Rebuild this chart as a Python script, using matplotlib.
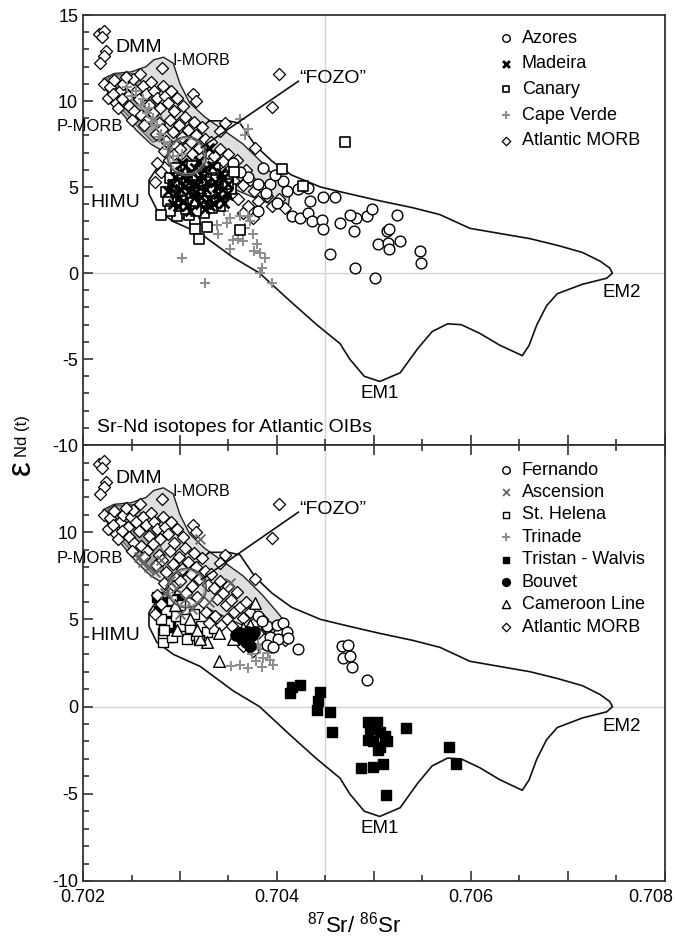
import matplotlib
matplotlib.use("Agg")
import matplotlib.pyplot as plt
from matplotlib.patches import Polygon, Ellipse
from matplotlib.transforms import ScaledTranslation

plt.rcParams['font.family'] = ['Liberation Sans', 'DejaVu Sans']
plt.rcParams['axes.unicode_minus'] = False

# ---------------- data ----------------
morb_x = [0.70216, 0.70222, 0.70220, 0.70224, 0.70222, 0.70218,
          0.70402, 0.70395, 0.70281, 0.70313, 0.70317, 0.70377, 0.70346, 0.70341,
          0.70222, 0.70228, 0.70232, 0.70238, 0.70241, 0.70246, 0.70249, 0.70252, 0.70255, 0.70258,
          0.70262, 0.70265, 0.70268, 0.70270, 0.70273, 0.70276, 0.70279, 0.70282, 0.70285, 0.70226,
          0.70234, 0.70240, 0.70247, 0.70253, 0.70260, 0.70266, 0.70272, 0.70278, 0.70231, 0.70244,
          0.70259, 0.70236, 0.70251, 0.70263, 0.70288, 0.70291, 0.70294, 0.70297, 0.70300, 0.70303,
          0.70275, 0.70281, 0.70286, 0.70290, 0.70293, 0.70296, 0.70299, 0.70302, 0.70305, 0.70308,
          0.70311, 0.70314, 0.70317, 0.70320, 0.70323, 0.70326, 0.70329, 0.70284, 0.70289, 0.70294,
          0.70300, 0.70306, 0.70312, 0.70318, 0.70276, 0.70280, 0.70274,
          0.70332, 0.70335, 0.70338, 0.70341, 0.70344, 0.70347, 0.70350, 0.70353, 0.70356, 0.70359,
          0.70362, 0.70365, 0.70368, 0.70324, 0.70327, 0.70330, 0.70336, 0.70342, 0.70348, 0.70354,
          0.70360, 0.70372, 0.70376, 0.70380, 0.70385, 0.70390, 0.70395, 0.70402, 0.70408, 0.70370,
          0.70365, 0.70375]
morb_y = [13.9, 14.1, 13.7, 12.9, 12.6, 12.2,
          11.6, 9.65, 11.9, 10.4, 10.0, 7.3, 8.7, 8.25,
          11.0, 10.8, 11.2, 10.6, 11.0, 10.3, 10.9, 11.3, 10.6, 10.1,
          10.9, 10.4, 9.8, 11.1, 10.6, 10.2, 9.6, 10.9, 10.3, 10.2,
          9.9, 10.1, 9.7, 9.4, 9.2, 8.9, 9.3, 8.7, 10.4, 11.4,
          11.6, 9.6, 8.9, 8.6, 9.9, 10.6, 9.4, 10.2, 8.8, 9.7,
          8.1, 8.4, 7.7, 8.9, 8.2, 7.4, 8.6, 7.9, 9.1, 8.3,
          7.6, 8.8, 8.0, 7.3, 8.5, 7.8, 7.0, 7.1, 6.6, 6.9,
          7.2, 6.5, 6.9, 6.3, 6.4, 5.9, 5.3,
          7.6, 6.8, 6.2, 7.2, 6.5, 5.8, 6.9, 6.1, 5.4, 6.6,
          5.7, 5.1, 6.0, 6.0, 5.4, 4.8, 5.2, 4.7, 5.0, 4.6,
          4.3, 5.4, 4.8, 4.2, 5.0, 4.5, 3.9, 4.3, 3.8, 3.9,
          3.5, 3.2]

azores_x = [0.70355, 0.70370, 0.70386, 0.70380, 0.70393, 0.70389, 0.70400, 0.70406, 0.70380, 0.70422,
            0.70432, 0.70434, 0.70447, 0.70460, 0.70415, 0.70424, 0.70432, 0.70436, 0.70446, 0.70447,
            0.70465, 0.70455, 0.70479, 0.70482, 0.70493, 0.70498, 0.70524, 0.70513, 0.70516, 0.70504,
            0.70514, 0.70527, 0.70516, 0.70480, 0.70501, 0.70548, 0.70549, 0.70475, 0.70362, 0.70398,
            0.70410]
azores_y = [6.4, 5.6, 6.1, 5.2, 5.2, 4.65, 4.1, 5.35, 3.6, 4.9,
            4.95, 4.2, 4.4, 4.4, 3.3, 3.2, 3.5, 3.0, 3.1, 2.55,
            2.9, 1.1, 2.45, 3.2, 3.3, 3.7, 3.4, 2.45, 2.55, 1.7,
            1.75, 1.85, 1.4, 0.3, -0.3, 1.3, 0.6, 3.4, 5.9, 5.7,
            4.8]

madeira_x = [0.70292, 0.70296, 0.70300, 0.70303, 0.70306, 0.70309, 0.70312, 0.70315, 0.70318, 0.70321,
             0.70324, 0.70327, 0.70330, 0.70333, 0.70336, 0.70339, 0.70342, 0.70345, 0.70298, 0.70310,
             0.70288, 0.70302, 0.70320, 0.70330, 0.70350, 0.70326, 0.70335, 0.70295, 0.70313, 0.70317,
             0.70298, 0.70304, 0.70307, 0.70319, 0.70322, 0.70328, 0.70331, 0.70338, 0.70341, 0.70305,
             0.70315, 0.70325, 0.70344, 0.70348, 0.70293, 0.70300]
madeira_y = [5.2, 4.6, 5.9, 4.2, 5.4, 4.8, 5.9, 4.4, 5.1, 4.0,
             5.6, 4.9, 4.3, 6.2, 5.3, 4.6, 5.8, 4.1, 3.9, 3.6,
             4.8, 6.4, 6.5, 7.3, 5.2, 3.7, 4.0, 5.6, 5.2, 4.7,
             4.3, 5.0, 3.9, 5.5, 4.4, 5.3, 3.9, 5.0, 4.3, 5.7,
             6.1, 6.0, 5.5, 4.6, 4.0, 4.9]

canary_x = [0.70290, 0.70293, 0.70296, 0.70299, 0.70302, 0.70305, 0.70308, 0.70311, 0.70314, 0.70317,
            0.70320, 0.70323, 0.70326, 0.70329, 0.70332, 0.70335, 0.70338, 0.70341, 0.70344, 0.70347,
            0.70288, 0.70291, 0.70300, 0.70304, 0.70312, 0.70318, 0.70327, 0.70336, 0.70350, 0.70353,
            0.70286, 0.70297, 0.70315, 0.70315, 0.70328, 0.70320, 0.70362, 0.70405, 0.70427, 0.70290,
            0.70470, 0.70309, 0.70325, 0.70280,
            0.70294, 0.70301, 0.70307, 0.70313, 0.70319, 0.70324, 0.70331, 0.70337, 0.70343, 0.70349,
            0.70306, 0.70316, 0.70333, 0.70296, 0.70356]
canary_y = [5.5, 4.9, 4.4, 5.8, 5.2, 4.6, 4.0, 5.5, 4.9, 4.3,
            3.8, 5.2, 4.6, 4.1, 5.6, 5.0, 4.4, 3.9, 5.3, 4.7,
            4.2, 3.7, 3.5, 6.0, 6.2, 5.7, 5.9, 6.1, 5.6, 4.9,
            4.7, 3.3, 3.1, 2.55, 2.7, 2.0, 2.5, 6.05, 5.05, 3.6,
            7.6, 3.4, 3.5, 3.4,
            5.1, 4.2, 5.3, 4.1, 4.8, 4.2, 4.8, 5.4, 4.6, 5.2,
            3.7, 3.6, 3.8, 6.1, 5.9]

capeverde_x = [0.70339, 0.70352, 0.70355, 0.70367, 0.70375, 0.70379, 0.70382, 0.70388, 0.70385, 0.70382,
               0.70352, 0.70370, 0.70338, 0.70362, 0.70370, 0.70367, 0.70348, 0.70362, 0.70372, 0.70365,
               0.70360, 0.70302, 0.70326, 0.70395, 0.70345, 0.70376,
               0.70255, 0.70262, 0.70268, 0.70272, 0.70276, 0.70280, 0.70284, 0.70288, 0.70293, 0.70298,
               0.70260, 0.70266, 0.70270, 0.70250, 0.70245, 0.70278, 0.70290, 0.70302, 0.70308]
capeverde_y = [2.25, 1.4, 1.95, 2.6, 2.25, 1.7, 1.15, 0.9, 0.3, 0.0,
               3.2, 3.3, 2.8, 8.95, 8.35, 8.0, 2.9, 3.3, 3.0, 1.85,
               2.0, 0.87, -0.58, -0.6, 3.6, 1.3,
               10.6, 10.1, 9.6, 9.0, 8.6, 8.1, 7.6, 7.2, 6.8, 6.5,
               9.8, 9.3, 8.8, 10.3, 10.8, 7.9, 7.5, 6.9, 6.4]

fernando_x = [0.70380, 0.70390, 0.70400, 0.70406, 0.70410, 0.70393, 0.70401, 0.70411, 0.70390, 0.70396,
              0.70422, 0.70467, 0.70473, 0.70468, 0.70475, 0.70477, 0.70493, 0.70372, 0.70385]
fernando_y = [5.2, 4.6, 4.7, 4.8, 4.3, 4.0, 3.85, 3.95, 3.55, 3.4,
              3.3, 3.45, 3.55, 2.8, 2.9, 2.3, 1.55, 4.4, 4.9]

ascension_x = [0.70321, 0.70352, 0.70262, 0.70268, 0.70274, 0.70258, 0.70280, 0.70290, 0.70296, 0.70305,
               0.70312, 0.70285, 0.70330, 0.70300]
ascension_y = [9.6, 7.1, 8.3, 8.0, 7.7, 8.6, 8.4, 7.2, 6.8, 6.2,
               5.6, 6.5, 6.0, 5.3]

sthelena_x = [0.70282, 0.70282, 0.70292, 0.70307, 0.70317, 0.70300, 0.70288, 0.70296, 0.70310, 0.70322,
              0.70286, 0.70300, 0.70314, 0.70328, 0.70292, 0.70305, 0.70280, 0.70320, 0.70335, 0.70284]
sthelena_y = [3.7, 4.25, 4.0, 3.85, 4.1, 4.6, 4.8, 5.2, 4.5, 4.6,
              5.5, 5.8, 5.3, 4.3, 6.1, 5.0, 5.0, 3.8, 4.5, 4.4]

trinade_x = [0.70362, 0.70374, 0.70382, 0.70386, 0.70391, 0.70385, 0.70396, 0.70390, 0.70353, 0.70378,
             0.70393, 0.70380, 0.70370]
trinade_y = [2.4, 3.0, 3.3, 2.8, 3.1, 2.25, 2.4, 3.45, 2.35, 2.6,
             2.7, 3.6, 2.2]

tristan_x = [0.70413, 0.70416, 0.70424, 0.70444, 0.70442, 0.70441, 0.70455, 0.70457,
             0.70494, 0.70503, 0.70496, 0.70506, 0.70511, 0.70494, 0.70499, 0.70506, 0.70513, 0.70504,
             0.70533, 0.70487, 0.70499, 0.70509, 0.70512, 0.70577, 0.70585,
             0.70276, 0.70280, 0.70284, 0.70288, 0.70292, 0.70283, 0.70290, 0.70286, 0.70295, 0.70281,
             0.70278, 0.70289, 0.70294, 0.70298]
tristan_y = [0.8, 1.1, 1.25, 0.85, 0.3, -0.2, -0.3, -1.45,
             -0.9, -0.9, -1.3, -1.45, -1.7, -1.9, -2.0, -2.3, -2.0, -2.5,
             -1.2, -3.5, -3.45, -3.3, -5.05, -2.3, -3.3,
             6.3, 5.8, 5.3, 4.9, 5.6, 4.6, 4.3, 6.0, 5.1, 5.0,
             5.5, 4.0, 4.5, 6.2]

bouvet_x = [0.70362, 0.70366, 0.70370, 0.70374, 0.70368, 0.70372, 0.70365, 0.70376, 0.70358, 0.70370]
bouvet_y = [4.2, 4.0, 4.3, 4.1, 3.7, 3.5, 3.9, 4.3, 4.1, 3.8]

cameroon_x = [0.70377, 0.70372, 0.70328, 0.70340, 0.70297, 0.70321, 0.70355, 0.70310, 0.70340, 0.70365,
              0.70295, 0.70318]
cameroon_y = [5.95, 4.7, 3.7, 2.6, 4.4, 3.85, 3.85, 5.0, 4.2, 4.5,
              5.8, 4.4]

# field outlines (Sr, eNd vertices)
oib_x = [0.70330, 0.70350, 0.70362, 0.70368, 0.70378, 0.70395, 0.70415, 0.70445, 0.70475, 0.70506,
         0.70540, 0.70568, 0.70599, 0.70630, 0.70661, 0.70690, 0.70715, 0.70733, 0.70743, 0.70746,
         0.70740, 0.70715, 0.70689, 0.70678, 0.70668, 0.70660, 0.70653, 0.70630, 0.70609, 0.70590,
         0.70576, 0.70560, 0.70545, 0.70527, 0.70506, 0.70490, 0.70475, 0.70465, 0.70441, 0.70413,
         0.70382, 0.70355, 0.70321, 0.70293, 0.70276, 0.70268, 0.70268, 0.70275, 0.70290, 0.70310,
         0.70330]
oib_y = [8.85, 8.85, 8.7, 8.2, 7.4, 6.5, 5.7, 5.0, 4.6, 4.2,
         3.8, 3.4, 2.6, 2.3, 2.0, 1.6, 1.2, 0.7, 0.3, 0.0,
         -0.3, -0.65, -1.2, -1.9, -3.0, -4.2, -4.8, -4.2, -3.5, -3.0,
         -2.95, -3.4, -4.4, -5.8, -6.3, -6.0, -5.0, -4.1, -3.0, -1.6,
         0.0, 0.9, 2.3, 3.0, 3.7, 4.6, 5.4, 6.0, 6.8, 7.8,
         8.85]

imorb_x = [0.70283, 0.70293, 0.70300, 0.70310, 0.70325, 0.70345, 0.70365, 0.70385, 0.70402, 0.70413,
           0.70412, 0.70400, 0.70380, 0.70355, 0.70330, 0.70305, 0.70285, 0.70270, 0.70255, 0.70240,
           0.70228, 0.70220, 0.70221, 0.70232, 0.70250, 0.70265, 0.70273]
imorb_y = [12.55, 12.2, 11.0, 9.9, 9.1, 8.3, 7.5, 6.4, 5.3, 4.5,
           4.0, 3.9, 4.3, 4.9, 5.6, 6.4, 7.0, 7.5, 8.3, 9.3,
           10.3, 11.0, 11.3, 11.6, 11.7, 12.0, 12.4]

pmorb_x = [0.70220, 0.70230, 0.70250, 0.70262, 0.70275, 0.70285, 0.70282, 0.70272, 0.70258, 0.70242, 0.70228]
pmorb_y = [11.1, 11.5, 11.6, 11.0, 9.8, 8.6, 7.8, 7.6, 8.4, 9.4, 10.5]

fozo_center = (0.70307, 6.8)
fozo_line_x = [0.70322, 0.70422]
fozo_line_y = [7.3, 11.15]

field_labels = [("DMM", 0.70233, 13.1, 14), ("I-MORB", 0.70292, 12.35, 11.5),
                ("P-MORB", 0.70173, 8.5, 12), ("HIMU", 0.70208, 4.1, 14),
                ("\u201cFOZO\u201d", 0.70423, 11.3, 14), ("EM2", 0.70736, -1.15, 13.5),
                ("EM1", 0.70486, -7.0, 13.5)]

top_series = ["Azores", "Madeira", "Canary", "Cape Verde", "Atlantic MORB"]
bottom_series = ["Fernando", "Ascension", "St. Helena", "Trinade", "Tristan - Walvis",
                 "Bouvet", "Cameroon Line", "Atlantic MORB"]

# ---------------- figure ----------------
fig = plt.figure(figsize=(6.75, 9.41), dpi=100)
ax1 = fig.add_axes([0.123, 0.527, 0.862, 0.457])
ax2 = fig.add_axes([0.123, 0.0638, 0.862, 0.4632])


def draw_fields(ax):
    ax.axvline(0.7045, color='#d4d4d4', lw=1.0, zorder=0)
    ax.axhline(0.0, color='#d4d4d4', lw=1.0, zorder=0)
    ax.add_patch(Polygon(list(zip(imorb_x, imorb_y)), closed=True, facecolor='#dedede',
                         edgecolor='#222222', lw=1.0, zorder=1))
    ax.add_patch(Polygon(list(zip(pmorb_x, pmorb_y)), closed=True, facecolor='#a6a6a6',
                         edgecolor='#555555', lw=0.8, zorder=1.1))
    ax.plot(oib_x, oib_y, color='#111111', lw=1.2, zorder=1.2)
    for lab, x, y, fs in field_labels:
        ax.text(x, y, lab, fontsize=fs, ha='left', va='center', zorder=6, clip_on=False)


def draw_fozo(ax):
    ax.add_patch(Ellipse(fozo_center, 0.00040, 2.25, fill=False, edgecolor='#555555',
                         lw=1.3, zorder=7))
    ax.add_patch(Ellipse(fozo_center, 0.00036, 2.05, fill=False, edgecolor='#888888',
                         lw=0.8, zorder=7))
    ax.plot(fozo_line_x, fozo_line_y, color='#111111', lw=1.2, zorder=7)


def style(ax, show_x, top_ticks):
    ax.set_xlim(0.702, 0.708)
    ax.set_ylim(-10, 15)
    ax.set_xticks([0.702, 0.703, 0.704, 0.705, 0.706, 0.707, 0.708])
    ax.set_xticks([0.7025, 0.7035, 0.7045, 0.7055, 0.7065, 0.7075], minor=True)
    ax.set_yticks(list(range(-10, 16, 1)), minor=True)
    ax.tick_params(axis='both', which='both', direction='in', labelsize=13, right=False,
                   top=top_ticks, width=1.2, color='#333333')
    ax.tick_params(axis='both', which='major', length=7)
    ax.tick_params(axis='both', which='minor', length=4)
    ax.tick_params(axis='x', pad=6)
    if show_x:
        ax.set_xticklabels(['0.702', '', '0.704', '', '0.706', '', '0.708'])
        last = ax.get_xticklabels()[-1]
        last.set_transform(last.get_transform() + ScaledTranslation(-0.14, 0, fig.dpi_scale_trans))
    else:
        ax.set_xticklabels([])
    for s in ax.spines.values():
        s.set_linewidth(1.3)
        s.set_color('#333333')


# ---- top panel ----
draw_fields(ax1)
ax1.scatter(morb_x, morb_y, marker='D', s=38, facecolors='white', edgecolors='black',
            linewidths=0.9, zorder=2, label=top_series[4])
ax1.scatter(capeverde_x, capeverde_y, marker='+', s=60, color='#8c8c8c', linewidths=1.4,
            zorder=3, label=top_series[3])
ax1.scatter(azores_x, azores_y, marker='o', s=60, facecolors='white', edgecolors='black',
            linewidths=1.0, zorder=4, label=top_series[0])
ax1.scatter(canary_x, canary_y, marker='s', s=45, facecolors='white', edgecolors='black',
            linewidths=1.2, zorder=4, label=top_series[2])
ax1.scatter(madeira_x, madeira_y, marker='x', s=50, color='black', linewidths=2.0,
            zorder=5, label=top_series[1])
draw_fozo(ax1)
ax1.text(0.70214, -8.95, "Sr-Nd isotopes for Atlantic OIBs", fontsize=14, ha='left',
         va='center')
style(ax1, False, False)
ax1.set_yticks([-10, -5, 0, 5, 10, 15])
h, l = ax1.get_legend_handles_labels()
order = [l.index(n) for n in top_series]
ax1.legend([h[i] for i in order], [l[i] for i in order], loc='upper left',
           bbox_to_anchor=(0.712, 0.966), frameon=False, fontsize=13, handletextpad=0.35,
           labelspacing=0.48, borderaxespad=0, borderpad=0, handlelength=1.0,
           markerscale=0.7, scatterpoints=1)

# ---- bottom panel ----
draw_fields(ax2)
ax2.scatter(tristan_x, tristan_y, marker='s', s=45, color='black', zorder=2,
            label=bottom_series[4])
ax2.scatter(sthelena_x, sthelena_y, marker='s', s=45, facecolors='white', edgecolors='black',
            linewidths=1.0, zorder=2, label=bottom_series[2])
ax2.scatter(morb_x, morb_y, marker='D', s=38, facecolors='white', edgecolors='black',
            linewidths=0.9, zorder=3, label=bottom_series[7])
ax2.scatter(ascension_x, ascension_y, marker='x', s=50, color='#666666', linewidths=1.3,
            zorder=5, label=bottom_series[1])
ax2.scatter(trinade_x, trinade_y, marker='+', s=60, color='#8c8c8c', linewidths=1.4,
            zorder=4, label=bottom_series[3])
ax2.scatter(cameroon_x, cameroon_y, marker='^', s=70, facecolors='white', edgecolors='black',
            linewidths=1.0, zorder=5, label=bottom_series[6])
ax2.scatter(fernando_x, fernando_y, marker='o', s=60, facecolors='white', edgecolors='black',
            linewidths=1.0, zorder=4, label=bottom_series[0])
ax2.scatter(bouvet_x, bouvet_y, marker='o', s=65, color='black', zorder=5,
            label=bottom_series[5])
draw_fozo(ax2)
style(ax2, True, True)
ax2.set_yticks([-10, -5, 0, 5, 10])
h, l = ax2.get_legend_handles_labels()
order = [l.index(n) for n in bottom_series]
ax2.legend([h[i] for i in order], [l[i] for i in order], loc='upper left',
           bbox_to_anchor=(0.712, 0.962), frameon=False, fontsize=13, handletextpad=0.35,
           labelspacing=0.3, borderaxespad=0, borderpad=0, handlelength=1.0,
           markerscale=0.7, scatterpoints=1)

# axis labels
fig.text(0.031, 0.503, "\u03b5", fontsize=24, rotation=90, ha='center', va='center')
fig.text(0.033, 0.537, "Nd (t)", fontsize=12, rotation=90, ha='center', va='center')
fig.text(0.525, 0.018, r"$\mathregular{^{87}}$Sr/ $\mathregular{^{86}}$Sr", fontsize=16,
         ha='center', va='center')

fig.savefig("out.png", dpi=100)
